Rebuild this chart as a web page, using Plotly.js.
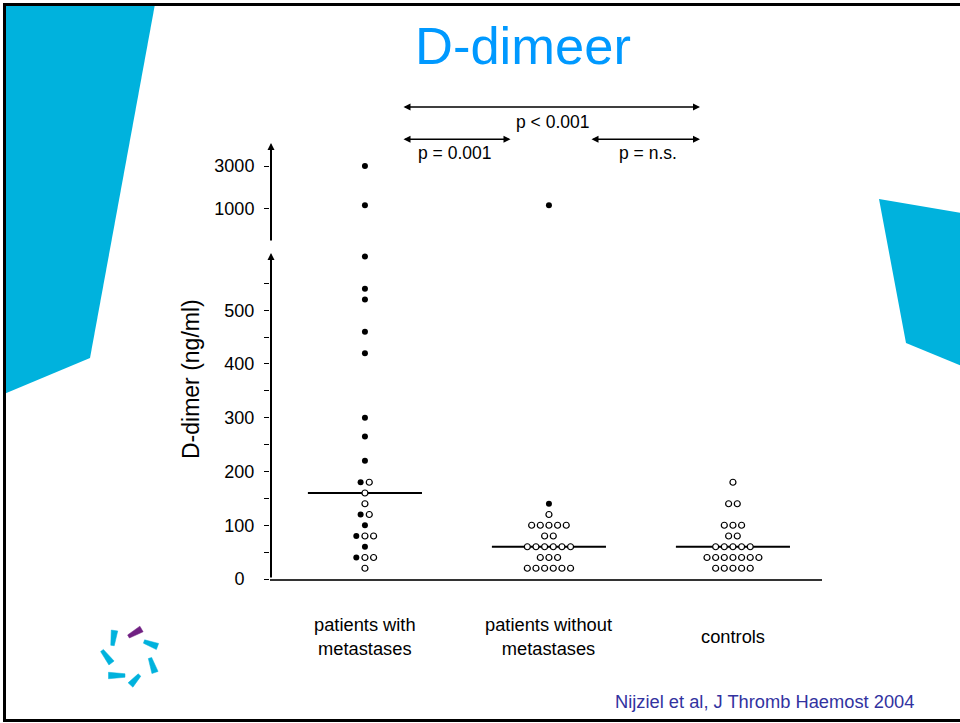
<!DOCTYPE html>
<html>
<head>
<meta charset="utf-8">
<script src="https://cdn.plot.ly/plotly-3.0.1.min.js"></script>
<style>html,body{margin:0;padding:0;background:#fff;}#chart{width:960px;height:723px;}</style>
</head>
<body>
<div id="chart"></div>
<script>
// ---------- data ----------
const categories = ['patients with<br>metastases', 'patients without<br>metastases', 'controls'];
const filledWith = [3000, 1080, 600, 540, 520, 460, 420, 300, 265, 220, 180, 120, 100, 80, 60, 40];
const openWith = [180, 160, 140, 120, 80, 80, 40, 40, 20];
const filledWithout = [1080, 140];
const openWithout = [120, 100, 100, 100, 100, 100, 80, 80, 60, 60, 60, 60, 60, 60, 40, 40, 40, 20, 20, 20, 20, 20, 20];
const filledControls = [];
const openControls = [180, 140, 140, 100, 100, 100, 80, 80, 60, 60, 60, 60, 60, 40, 40, 40, 40, 40, 40, 40, 20, 20, 20, 20, 20];
const lowerTickVals = [0, 50, 100, 150, 200, 250, 300, 350, 400, 450, 500, 550];
const lowerTickText = ['0\u00a0\u00a0', '', '100', '', '200', '', '300', '', '400', '', '500', ''];
const upperTickVals = [1000, 3000];
const upperTickText = ['1000', '3000'];
const pLabels = ['p < 0.001', 'p = 0.001', 'p = n.s.'];
const chartTitle = 'D-dimeer';
const yTitle = 'D-dimer (ng/ml)';
const citation = 'Nijziel et al, J Thromb Haemost 2004';

// ---------- helpers ----------
const W = 960, H = 723;
const px = x => x / W;
const py = y => 1 - y / H;
const LOWER_MAX = 605;
const SPACING = 0.047;   // swarm spacing in x units
const MEDIAN_HALF = 0.31;

function swarm(idx, filled, open) {
  const rows = new Map();
  filled.forEach(v => { if (!rows.has(v)) rows.set(v, []); rows.get(v).push('f'); });
  open.forEach(v => { if (!rows.has(v)) rows.set(v, []); rows.get(v).push('o'); });
  const out = { f: { x: [], y: [], x2: [], y2: [] }, o: { x: [], y: [], x2: [], y2: [] } };
  rows.forEach((kinds, v) => {
    const n = kinds.length;
    kinds.forEach((k, j) => {
      const xx = idx + (j - (n - 1) / 2) * SPACING;
      if (v > LOWER_MAX) { out[k].x2.push(xx); out[k].y2.push(v); }
      else { out[k].x.push(xx); out[k].y.push(v); }
    });
  });
  return out;
}
function median(arr) {
  const s = arr.slice().sort((a, b) => a - b);
  const m = Math.floor(s.length / 2);
  return s.length % 2 ? s[m] : (s[m - 1] + s[m]) / 2;
}

const groups = [[filledWith, openWith], [filledWithout, openWithout], [filledControls, openControls]];
const F = { x: [], y: [], x2: [], y2: [] }, O = { x: [], y: [], x2: [], y2: [] };
const medX = [], medY = [];
groups.forEach((g, i) => {
  const s = swarm(i, g[0], g[1]);
  ['x', 'y', 'x2', 'y2'].forEach(k => { F[k].push(...s.f[k]); O[k].push(...s.o[k]); });
  const m = median(g[0].concat(g[1]));
  medX.push(i - MEDIAN_HALF, i + MEDIAN_HALF, null);
  medY.push(m, m, null);
});

const filledMarker = { size: 6, color: '#000', line: { width: 0 } };
const openMarker = { size: 6, color: '#fff', line: { width: 1.2, color: '#000' } };
const traces = [
  { type: 'scatter', mode: 'lines', x: medX, y: medY, line: { color: '#000', width: 2 }, cliponaxis: false, hoverinfo: 'skip' },
  { type: 'scatter', mode: 'markers', x: F.x, y: F.y, marker: filledMarker, cliponaxis: false },
  { type: 'scatter', mode: 'markers', x: O.x, y: O.y, marker: openMarker, cliponaxis: false },
  { type: 'scatter', mode: 'markers', x: F.x2, y: F.y2, yaxis: 'y2', marker: filledMarker, cliponaxis: false },
  { type: 'scatter', mode: 'markers', x: O.x2, y: O.y2, yaxis: 'y2', marker: openMarker, cliponaxis: false }
];

const FONT = 'Liberation Sans, Arial, Helvetica, sans-serif';
const CYAN = 'rgb(0,178,221)';
const PURPLE = 'rgb(112,32,130)';

function path(pts) {
  return 'M ' + pts.map(p => px(p[0]) + ',' + py(p[1])).join(' L ') + ' Z';
}
// tapered logo petal from a (narrow) to b (wide)
function petal(a, b, wa, wb, color) {
  const dx = b[0] - a[0], dy = b[1] - a[1];
  const L = Math.hypot(dx, dy);
  const nx = -dy / L, ny = dx / L;
  const pts = [
    [a[0] + nx * wa / 2, a[1] + ny * wa / 2], [b[0] + nx * wb / 2, b[1] + ny * wb / 2],
    [b[0] - nx * wb / 2, b[1] - ny * wb / 2], [a[0] - nx * wa / 2, a[1] - ny * wa / 2]
  ];
  return { type: 'path', xref: 'paper', yref: 'paper', path: path(pts), fillcolor: color, line: { width: 0.5, color: color }, layer: 'above' };
}

const shapes = [
  { type: 'path', xref: 'paper', yref: 'paper', path: path([[4, 4], [155, 4], [90, 358], [4, 394]]), fillcolor: CYAN, line: { width: 0 }, layer: 'below' },
  { type: 'path', xref: 'paper', yref: 'paper', path: path([[879, 199], [962, 213], [962, 366], [906, 343]]), fillcolor: CYAN, line: { width: 0 }, layer: 'below' },
  { type: 'rect', xref: 'paper', yref: 'paper', x0: px(4.5), y0: py(4.5), x1: px(964), y1: py(720.5), line: { color: '#000', width: 3 }, fillcolor: 'rgba(0,0,0,0)', layer: 'above' },
  // logo
  petal([128.5, 636.5], [141.5, 629], 3.5, 6.5, PURPLE),
  petal([112.5, 645.5], [114.5, 630.5], 3.5, 6.5, CYAN),
  petal([144, 641.5], [157.5, 646.5], 3.5, 6.5, CYAN),
  petal([150, 658], [155, 672.5], 3.5, 6.5, CYAN),
  petal([139.5, 675], [130.5, 685], 3.5, 6.5, CYAN),
  petal([125, 675.5], [108.5, 675.5], 3.5, 6.5, CYAN),
  petal([102, 650.5], [111.5, 663], 3.5, 6.5, CYAN)
];

function harrow(xHead, xTail, y) {
  return { xref: 'paper', yref: 'paper', x: px(xHead), y: py(y), ax: xTail - xHead, ay: 0, axref: 'pixel', ayref: 'pixel',
           text: '', showarrow: true, arrowside: 'end+start', arrowhead: 2, arrowsize: 1, arrowwidth: 1.4, arrowcolor: '#000' };
}
function varrow(x, yHead, yTail) {
  return { xref: 'paper', yref: 'paper', x: px(x), y: py(yHead), ax: 0, ay: yTail - yHead,
           text: '', showarrow: true, arrowhead: 2, arrowsize: 0.7, arrowwidth: 2, arrowcolor: '#000' };
}
function label(text, x, y, size, color, xref) {
  return { xref: xref || 'paper', yref: 'paper', x: xref ? x : px(x), y: py(y), text: text, showarrow: false,
           xanchor: 'center', yanchor: 'middle', font: { family: FONT, size: size, color: color || '#000' } };
}

const annotations = [
  varrow(271, 253, 579),
  varrow(271, 143, 242),
  harrow(700, 402, 107),
  harrow(510.5, 402, 139.3),
  harrow(700, 590, 139.3),
  label(pLabels[0], 552, 122, 17.5),
  label(pLabels[1], 454, 153, 17.5),
  label(pLabels[2], 648, 153, 17.5),
  { xref: 'paper', yref: 'paper', x: px(191), y: py(379), text: yTitle, textangle: -90, showarrow: false,
    xanchor: 'center', yanchor: 'middle', font: { family: FONT, size: 23, color: '#000' } },
  label(citation, 764.5, 701, 18.3, 'rgb(50,50,160)'),
  label(chartTitle, 523, 45, 52.5, 'rgb(0,153,255)')
];
categories.forEach((c, i) => annotations.push(label(c, i, 636, 18.3, '#000', 'x')));

const axisCommon = { showgrid: false, zeroline: false, showline: false, ticks: 'outside', ticklen: 5, tickwidth: 1,
                     tickcolor: '#000', tickfont: { family: FONT, size: 18, color: '#000' }, anchor: 'x', ticklabelstandoff: 6 };

const layout = {
  width: W, height: H,
  margin: { l: 0, r: 0, t: 0, b: 0, pad: 0 },
  paper_bgcolor: '#fff', plot_bgcolor: 'rgba(0,0,0,0)',
  showlegend: false,
  font: { family: FONT, color: '#000' },
  xaxis: { domain: [px(270), px(822)], range: [-0.516, 2.484], showgrid: false, zeroline: false, showline: true,
           linecolor: '#333', linewidth: 2, showticklabels: false, ticks: '', fixedrange: true },
  yaxis: Object.assign({}, axisCommon, { domain: [py(579), py(253.8)], range: [0, LOWER_MAX], tickmode: 'array',
           tickvals: lowerTickVals, ticktext: lowerTickText }),
  yaxis2: Object.assign({}, axisCommon, { domain: [py(242), py(143)], type: 'log', range: [2.620, 3.7365], tickmode: 'array',
           tickvals: upperTickVals, ticktext: upperTickText }),
  shapes: shapes,
  annotations: annotations
};

Plotly.newPlot('chart', traces, layout, { staticPlot: true, displayModeBar: false });
</script>
</body>
</html>
